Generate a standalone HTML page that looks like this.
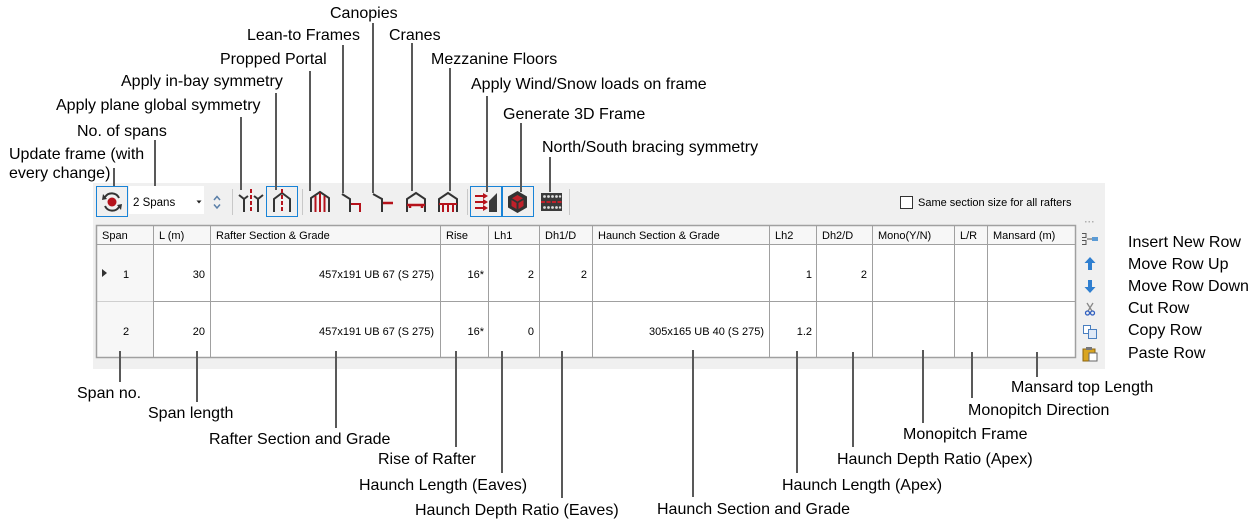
<!DOCTYPE html>
<html><head><meta charset="utf-8"><style>
html,body{margin:0;padding:0;background:#fff;}
svg{display:block;}
</style></head><body>
<svg width="1254" height="524" viewBox="0 0 1254 524" xmlns="http://www.w3.org/2000/svg" font-family="'Liberation Sans', Arial, sans-serif">
<rect width="1254" height="524" fill="#fff"/>
<!-- panel -->
<rect x="93" y="183" width="1012" height="186" fill="#f0f0f0"/>

<!-- toolbar -->
<rect x="96.5" y="186.5" width="31" height="30" fill="none" stroke="#1883d7" stroke-width="1"/>
<g fill="none" stroke="#333" stroke-width="2">
  <path d="M105,197 A8,8 0 0 1 119,198"/>
  <path d="M119,207 A8,8 0 0 1 105,206"/>
</g>
<path d="M103,194 L107,199 L102,200 Z" fill="#333"/>
<path d="M121,210 L117,205 L122,204 Z" fill="#333"/>
<circle cx="112" cy="202" r="4.5" fill="#b5121b"/>

<rect x="129" y="186" width="75" height="28" fill="#fff"/>
<text x="133" y="206" font-size="11.5" fill="#000">2 Spans</text>
<path d="M196.5,200.5 L201.5,200.5 L199,203.5 Z" fill="#222"/>
<path d="M214,200 L217,196.5 L220,200" fill="none" stroke="#5a7fa8" stroke-width="1.5"/>
<path d="M214,204.5 L217,208 L220,204.5" fill="none" stroke="#5a7fa8" stroke-width="1.5"/>

<g stroke="#c8c8c8" stroke-width="1">
  <line x1="232.5" y1="189" x2="232.5" y2="215"/>
  <line x1="302.5" y1="189" x2="302.5" y2="215"/>
  <line x1="467.5" y1="189" x2="467.5" y2="215"/>
  <line x1="569.5" y1="189" x2="569.5" y2="215"/>
</g>

<!-- global symmetry -->
<g fill="none" stroke="#333" stroke-width="2">
  <path d="M239,195 L244,199 L244,212 M244,199 L248,196"/>
  <path d="M263,195 L258,199 L258,212 M258,199 L254,196"/>
</g>
<line x1="251" y1="189" x2="251" y2="213" stroke="#b5121b" stroke-width="2" stroke-dasharray="4,2"/>

<!-- in-bay -->
<rect x="266.5" y="186.5" width="31" height="30" fill="none" stroke="#1883d7" stroke-width="1"/>
<path d="M274,212 L274,199 L282,193 L290,199 L290,212" fill="none" stroke="#333" stroke-width="2"/>
<line x1="282" y1="189" x2="282" y2="213" stroke="#b5121b" stroke-width="2" stroke-dasharray="4,2"/>

<!-- propped portal -->
<path d="M311,212 L311,198 L320,192 L329,198 L329,212" fill="none" stroke="#333" stroke-width="2"/>
<g stroke="#b5121b" stroke-width="2">
  <line x1="315.5" y1="196" x2="315.5" y2="212"/>
  <line x1="320" y1="193" x2="320" y2="212"/>
  <line x1="324.5" y1="196" x2="324.5" y2="212"/>
</g>

<!-- lean-to -->
<path d="M342,194 L350,199 L350,212" fill="none" stroke="#333" stroke-width="2"/>
<path d="M351,204 L360,204 L360,212" fill="none" stroke="#b5121b" stroke-width="2"/>

<!-- canopies -->
<path d="M373,194 L382,199 L382,212" fill="none" stroke="#333" stroke-width="2"/>
<path d="M383,203 L393,203" fill="none" stroke="#b5121b" stroke-width="2.5"/>

<!-- cranes -->
<path d="M407,212 L407,199 L416,193 L425,199 L425,212" fill="none" stroke="#333" stroke-width="2"/>
<path d="M407,205 L425,205 M410,205 L410,208 M422,205 L422,208" fill="none" stroke="#b5121b" stroke-width="2.5"/>

<!-- mezzanine -->
<path d="M439,212 L439,199 L448,193 L457,199 L457,212" fill="none" stroke="#333" stroke-width="2"/>
<path d="M439,204 L457,204 M443,204 L443,212 M448,204 L448,212 M453,204 L453,212" fill="none" stroke="#b5121b" stroke-width="2"/>

<!-- wind -->
<rect x="470.5" y="186.5" width="31" height="30" fill="none" stroke="#1883d7" stroke-width="1"/>
<rect x="502.5" y="186.5" width="31" height="30" fill="none" stroke="#1883d7" stroke-width="1"/>
<g stroke="#b5121b" stroke-width="2">
  <line x1="475" y1="196" x2="484" y2="196"/>
  <line x1="475" y1="202" x2="484" y2="202"/>
  <line x1="475" y1="208" x2="484" y2="208"/>
</g>
<g fill="#b5121b">
  <path d="M483,193 L488,196 L483,199 Z"/>
  <path d="M483,199 L488,202 L483,205 Z"/>
  <path d="M483,205 L488,208 L483,211 Z"/>
</g>
<path d="M489,201 L497,193 L497,212 L489,212 Z" fill="#3a3a3a"/>

<!-- 3D -->
<path d="M517.5,191 L527,196.5 L527,207.5 L517.5,213 L508,207.5 L508,196.5 Z" fill="#333"/>
<path d="M517.5,195 L523,198.3 L517.5,201.5 L512,198.3 Z" fill="#c0202a"/>
<path d="M511.5,200 L516.5,203 L516.5,209 L511.5,206 Z" fill="#c0202a"/>
<path d="M523.5,200 L518.5,203 L518.5,209 L523.5,206 Z" fill="#c0202a"/>

<!-- bracing -->
<rect x="541" y="193" width="21" height="18" fill="#3a3a3a"/>
<g fill="#ddd">
  <circle cx="544.5" cy="196.5" r="1.4"/><circle cx="548.5" cy="196.5" r="1.4"/><circle cx="552.5" cy="196.5" r="1.4"/><circle cx="556.5" cy="196.5" r="1.4"/><circle cx="560" cy="196.5" r="1.2"/>
  <circle cx="544.5" cy="207.5" r="1.4"/><circle cx="548.5" cy="207.5" r="1.4"/><circle cx="552.5" cy="207.5" r="1.4"/><circle cx="556.5" cy="207.5" r="1.4"/><circle cx="560" cy="207.5" r="1.2"/>
</g>
<line x1="541" y1="202" x2="562" y2="202" stroke="#c0202a" stroke-width="2" stroke-dasharray="4,1.5"/>

<!-- checkbox -->
<rect x="900.5" y="196.5" width="12" height="12" fill="#fff" stroke="#333" stroke-width="1"/>
<text x="918" y="206" font-size="11" fill="#000">Same section size for all rafters</text>

<!-- table -->
<rect x="96" y="225" width="980" height="133" fill="#fff"/>
<rect x="96" y="225" width="980" height="19" fill="#f7f7f7"/>
<rect x="96" y="244" width="57" height="114" fill="#f7f7f7"/>
<g stroke="#a0a0a0" stroke-width="1">
  <line x1="96" y1="244.5" x2="1076" y2="244.5"/>
  <line x1="153" y1="301.5" x2="1076" y2="301.5"/>
  <line x1="153.5" y1="225" x2="153.5" y2="358"/>
  <line x1="210.5" y1="225" x2="210.5" y2="358"/>
  <line x1="440.5" y1="225" x2="440.5" y2="358"/>
  <line x1="488.5" y1="225" x2="488.5" y2="358"/>
  <line x1="539.5" y1="225" x2="539.5" y2="358"/>
  <line x1="592.5" y1="225" x2="592.5" y2="358"/>
  <line x1="769.5" y1="225" x2="769.5" y2="358"/>
  <line x1="816.5" y1="225" x2="816.5" y2="358"/>
  <line x1="872.5" y1="225" x2="872.5" y2="358"/>
  <line x1="954.5" y1="225" x2="954.5" y2="358"/>
  <line x1="987.5" y1="225" x2="987.5" y2="358"/>
</g>
<line x1="97" y1="301.5" x2="153" y2="301.5" stroke="#cfcfcf" stroke-width="1"/>
<rect x="96.5" y="225.5" width="979" height="132" fill="none" stroke="#a0a0a0" stroke-width="1.5"/>

<g font-size="11" fill="#000">
  <text x="102" y="239">Span</text>
  <text x="159" y="239">L (m)</text>
  <text x="216" y="239">Rafter Section &amp; Grade</text>
  <text x="446" y="239">Rise</text>
  <text x="494" y="239">Lh1</text>
  <text x="545" y="239">Dh1/D</text>
  <text x="598" y="239">Haunch Section &amp; Grade</text>
  <text x="775" y="239">Lh2</text>
  <text x="822" y="239">Dh2/D</text>
  <text x="878" y="239">Mono(Y/N)</text>
  <text x="960" y="239">L/R</text>
  <text x="993" y="239">Mansard (m)</text>
</g>
<path d="M102,269 L107,273 L102,277 Z" fill="#333"/>
<g font-size="11" fill="#000">
  <text x="126" y="278" text-anchor="middle">1</text>
  <text x="205" y="278" text-anchor="end">30</text>
  <text x="434" y="278" text-anchor="end">457x191 UB 67 (S 275)</text>
  <text x="484" y="278" text-anchor="end">16*</text>
  <text x="534" y="278" text-anchor="end">2</text>
  <text x="587" y="278" text-anchor="end">2</text>
  <text x="812" y="278" text-anchor="end">1</text>
  <text x="867" y="278" text-anchor="end">2</text>

  <text x="126" y="335" text-anchor="middle">2</text>
  <text x="205" y="335" text-anchor="end">20</text>
  <text x="434" y="335" text-anchor="end">457x191 UB 67 (S 275)</text>
  <text x="484" y="335" text-anchor="end">16*</text>
  <text x="534" y="335" text-anchor="end">0</text>
  <text x="764" y="335" text-anchor="end">305x165 UB 40 (S 275)</text>
  <text x="812" y="335" text-anchor="end">1.2</text>
</g>

<!-- right side icons -->
<g fill="#b0b0b0">
  <rect x="1085" y="221" width="1.5" height="1.5"/><rect x="1088.5" y="221" width="1.5" height="1.5"/><rect x="1092" y="221" width="1.5" height="1.5"/>
</g>
<path d="M1082,233.5 H1086 V237.5 H1082 M1082,240.5 H1086 V244.5 H1082" fill="none" stroke="#555" stroke-width="1"/>
<line x1="1087" y1="239" x2="1092" y2="239" stroke="#555" stroke-width="1"/>
<rect x="1092" y="237" width="6" height="4" fill="#5b9bd5"/>
<path d="M1090,257 L1095.5,263 L1092,263 L1092,270 L1088,270 L1088,263 L1084.5,263 Z" fill="#2f7fd0"/>
<path d="M1090,293 L1095.5,287 L1092,287 L1092,280 L1088,280 L1088,287 L1084.5,287 Z" fill="#2f7fd0"/>
<g fill="none" stroke="#888" stroke-width="1.3">
  <path d="M1087,303 L1092,311 M1093,303 L1088,311"/>
</g>
<circle cx="1087.5" cy="313" r="2" fill="none" stroke="#3060c0" stroke-width="1.3"/>
<circle cx="1092.5" cy="313" r="2" fill="none" stroke="#3060c0" stroke-width="1.3"/>
<rect x="1083.5" y="325.5" width="7" height="8" fill="#fff" stroke="#4a7fc0" stroke-width="1"/>
<rect x="1088.5" y="329.5" width="8" height="9" fill="#dfe9f7" stroke="#4a7fc0" stroke-width="1"/>
<rect x="1083" y="349" width="12" height="12" fill="#d9a521" stroke="#8a6410" stroke-width="1"/>
<rect x="1086" y="347" width="6" height="3" fill="#777"/>
<rect x="1089" y="353" width="8" height="8" fill="#fff" stroke="#666" stroke-width="1"/>

<!-- connector lines -->
<g stroke="#595959" stroke-width="2">
  <line x1="114" y1="168" x2="114" y2="186"/>
  <line x1="155" y1="140" x2="155" y2="186"/>
  <line x1="241" y1="117" x2="241" y2="190"/>
  <line x1="276" y1="93" x2="276" y2="190"/>
  <line x1="310" y1="71" x2="310" y2="191"/>
  <line x1="343" y1="45" x2="343" y2="193"/>
  <line x1="373" y1="23" x2="373" y2="193"/>
  <line x1="412" y1="43" x2="412" y2="191"/>
  <line x1="450" y1="68" x2="450" y2="191"/>
  <line x1="487" y1="96" x2="487" y2="192"/>
  <line x1="521" y1="123" x2="521" y2="192"/>
  <line x1="550" y1="157" x2="550" y2="192"/>

  <line x1="120" y1="351" x2="120" y2="382"/>
  <line x1="197" y1="351" x2="197" y2="402"/>
  <line x1="336" y1="351" x2="336" y2="428"/>
  <line x1="456" y1="351" x2="456" y2="447"/>
  <line x1="502" y1="351" x2="502" y2="473"/>
  <line x1="562" y1="351" x2="562" y2="498"/>
  <line x1="693" y1="350" x2="693" y2="497"/>
  <line x1="797" y1="351" x2="797" y2="473"/>
  <line x1="853" y1="352" x2="853" y2="447"/>
  <line x1="923" y1="350" x2="923" y2="423"/>
  <line x1="972" y1="352" x2="972" y2="398"/>
  <line x1="1037" y1="352" x2="1037" y2="377"/>
</g>

<!-- labels -->
<g font-size="16" fill="#000">
  <text x="9" y="159">Update frame (with</text>
  <text x="9" y="178">every change)</text>
  <text x="77" y="136">No. of spans</text>
  <text x="56" y="110">Apply plane global symmetry</text>
  <text x="121" y="86">Apply in-bay symmetry</text>
  <text x="220" y="64">Propped Portal</text>
  <text x="247" y="40">Lean-to Frames</text>
  <text x="330" y="18">Canopies</text>
  <text x="389" y="40">Cranes</text>
  <text x="431" y="64">Mezzanine Floors</text>
  <text x="471" y="89">Apply Wind/Snow loads on frame</text>
  <text x="503" y="119">Generate 3D Frame</text>
  <text x="542" y="152">North/South bracing symmetry</text>

  <text x="1128" y="247">Insert New Row</text>
  <text x="1128" y="269">Move Row Up</text>
  <text x="1128" y="291">Move Row Down</text>
  <text x="1128" y="313">Cut Row</text>
  <text x="1128" y="335">Copy Row</text>
  <text x="1128" y="358">Paste Row</text>

  <text x="77" y="398">Span no.</text>
  <text x="148" y="418">Span length</text>
  <text x="209" y="444">Rafter Section and Grade</text>
  <text x="378" y="464">Rise of Rafter</text>
  <text x="359" y="490">Haunch Length (Eaves)</text>
  <text x="415" y="515">Haunch Depth Ratio (Eaves)</text>
  <text x="657" y="514">Haunch Section and Grade</text>
  <text x="782" y="490">Haunch Length (Apex)</text>
  <text x="837" y="464">Haunch Depth Ratio (Apex)</text>
  <text x="903" y="439">Monopitch Frame</text>
  <text x="968" y="415">Monopitch Direction</text>
  <text x="1011" y="392">Mansard top Length</text>
</g>
</svg>
</body></html>
